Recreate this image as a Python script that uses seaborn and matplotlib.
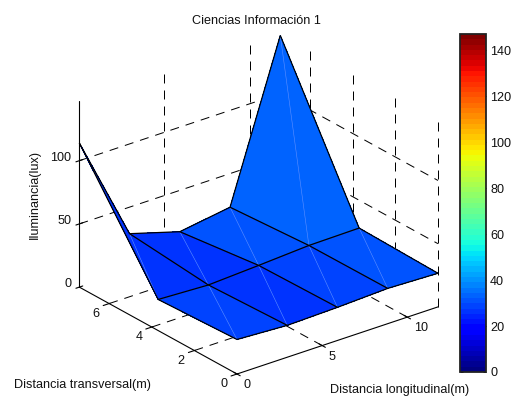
import numpy as np
import matplotlib
matplotlib.use('Agg')
import matplotlib.pyplot as plt
import seaborn as sns
from matplotlib.cm import ScalarMappable
from matplotlib.colors import Normalize
from mpl_toolkits.mplot3d import proj3d

# surface
dist_long = [0, 2.95, 5.9, 8.85, 11.8]
dist_trans = [0, 3.7, 7.4]
lux_row0 = [27.3, 25.2, 26.2, 27.9, 26.6]
lux_row1 = [24.6, 22.8, 25.0, 27.5, 28.0]
lux_row2 = [114.0, 29.0, 17.3, 23.4, 146.0]
# facet colour values
facet_row0 = [28.7, 26.4, 28.7, 31.0]
facet_row1 = [26.4, 26.4, 31.0, 33.3]

x_ticks = [0, 5, 10]
y_ticks = [0, 2, 4, 6]
z_ticks = [0, 50, 100]
cbar_ticks = [0, 20, 40, 60, 80, 100, 120, 140]

X_MAX, Y_MAX, Z_MAX = 11.8, 7.4, 147
W, H = 513, 401

sns.set_theme(style='white')
plt.rcParams['font.family'] = ['Liberation Sans', 'DejaVu Sans']
plt.rcParams['font.size'] = 9.1
plt.rcParams['text.color'] = '#111111'

fig = plt.figure(figsize=(W / 100, H / 100), dpi=100)
ax = fig.add_axes([0, 0, 1, 1], projection='3d', computed_zorder=False)
ax.set_proj_type('ortho')
ax.view_init(elev=25.4, azim=232.1)
ax.set_xlim(0, X_MAX)
ax.set_ylim(0, Y_MAX)
ax.set_zlim(0, Z_MAX)
ax.set_axis_off()

box = (255, 257, 206)


def to_px(x, y, z):
    ax.apply_aspect()
    px, py, _ = proj3d.proj_transform(x, y, z, ax.get_proj())
    return ax.transData.transform((px, py))


# fit the box so the origin and the right corner land where they do in the picture
ax.set_box_aspect(box, zoom=1)
span = np.linalg.norm(to_px(X_MAX, 0, 0) - to_px(0, 0, 0))
ax.set_box_aspect(box, zoom=np.hypot(201, 67) / span)
o = to_px(0, 0, 0)
ax.set_position([(237 - o[0]) / W, ((H - 374) - o[1]) / H, 1, 1])

cmap = plt.get_cmap('jet', 64)
norm = Normalize(0, Z_MAX)

XX, YY = np.meshgrid(dist_long, dist_trans)
ZZ = np.array([lux_row0, lux_row1, lux_row2])
CC = np.array([facet_row0, facet_row1])

grid_kw = dict(color='black', lw=0.72, ls=(0, (9, 7)), zorder=1)
line_kw = dict(color='black', lw=0.8, zorder=5)

# dashed grid on floor and the two back walls
for v in x_ticks[1:]:
    ax.plot([v, v], [0, Y_MAX], [0, 0], **grid_kw)
    ax.plot([v, v], [Y_MAX, Y_MAX], [0, Z_MAX], **grid_kw)
for v in y_ticks[1:]:
    ax.plot([0, X_MAX], [v, v], [0, 0], **grid_kw)
for v in y_ticks:
    ax.plot([X_MAX, X_MAX], [v, v], [0, Z_MAX], **grid_kw)
for v in z_ticks[1:]:
    ax.plot([0, X_MAX], [Y_MAX, Y_MAX], [v, v], **grid_kw)
    ax.plot([X_MAX, X_MAX], [Y_MAX, 0], [v, v], **grid_kw)

# axis lines and ticks
ax.plot([0, X_MAX], [0, 0], [0, 0], **line_kw)
ax.plot([0, 0], [0, Y_MAX], [0, 0], **line_kw)
ax.plot([0, 0], [Y_MAX, Y_MAX], [0, Z_MAX], **line_kw)
for v in x_ticks:
    ax.plot([v, v], [-0.15, 0.15], [0, 0], **line_kw)
for v in y_ticks:
    ax.plot([-0.35, 0.05], [v, v], [0, 0], **line_kw)
for v in z_ticks:
    ax.plot([-0.2, 0.2], [Y_MAX, Y_MAX], [v, v], **line_kw)

ax.plot_surface(XX, YY, ZZ, facecolors=cmap(norm(CC)), rstride=1, cstride=1,
                shade=False, linewidth=0, antialiased=False, zorder=2)
# pale facet diagonals
for i in range(len(dist_trans) - 1):
    for j in range(len(dist_long) - 1):
        ax.plot([XX[i, j], XX[i + 1, j + 1]], [YY[i, j], YY[i + 1, j + 1]],
                [ZZ[i, j], ZZ[i + 1, j + 1]], color='#5f90ff', lw=0.4, zorder=3)
ax.plot_wireframe(XX, YY, ZZ, rstride=1, cstride=1, color='black', lw=0.9, zorder=4)


def tick_label(x, y, z, text, dx, dy, ha='center'):
    px, py, _ = proj3d.proj_transform(x, y, z, ax.get_proj())
    ax.annotate(text, (px, py), xytext=(dx, dy), textcoords='offset pixels',
                ha=ha, va='center', annotation_clip=False)


for v in x_ticks:
    tick_label(v, 0, 0, str(v), 6.5, -11, ha='left')
for v in y_ticks:
    tick_label(0, v, 0, str(v), -13, -10)
for v in z_ticks:
    tick_label(0, Y_MAX, v, str(v), -8, 3, ha='right')

fig.text(256.5 / W, 1 - 21 / H, 'Ciencias Información 1', ha='center', va='center')
fig.text(35 / W, 1 - 194 / H, 'Iluminancia(lux)', rotation=90, ha='center', va='center')
fig.text(14 / W, 1 - 385 / H, 'Distancia transversal(m)', ha='left', va='center')
fig.text(330 / W, 1 - 390 / H, 'Distancia longitudinal(m)', ha='left', va='center')

cax = fig.add_axes([460 / W, (H - 372) / H, 26 / W, 338 / H])
cb = fig.colorbar(ScalarMappable(norm, cmap), cax=cax, ticks=cbar_ticks)
cb.outline.set_linewidth(1.3)
cb.outline.set_edgecolor('#222222')
cax.tick_params(axis='y', left=True, right=True, direction='in', length=2.5, width=0.7,
                color='black', pad=3, labelsize=9.1, labelcolor='#111111')

fig.savefig('out.png', dpi=100)
